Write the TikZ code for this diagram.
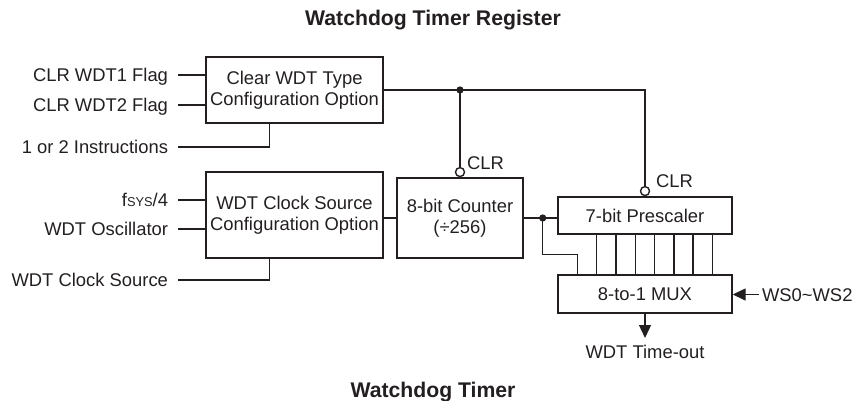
\documentclass[tikz,border=0pt]{standalone}
\usepackage{fontspec}
\setmainfont{Liberation Sans}
\usetikzlibrary{arrows.meta,calc}
\definecolor{ink}{HTML}{231F20}
\begin{document}
\begin{tikzpicture}[x=1pt,y=-1pt,
  every node/.style={font=\fontsize{18.4}{21}\selectfont, text=ink},
  line/.style={line width=1.4pt, draw=ink},
  block/.style={line, rectangle, align=center, inner sep=0pt},
  lab/.style={inner sep=0pt, text height=13.2pt, text depth=0pt},
  inlab/.style={lab, anchor=east, outer xsep=10pt},
  bubble/.style={circle, line, fill=white, inner sep=0pt, minimum size=9pt},
  tip/.style={-{Triangle[length=13pt,width=12pt]}},
  ttl/.style={font=\bfseries\fontsize{21.2}{25}\selectfont, inner sep=0pt, anchor=base}
]
\useasboundingbox (0,0) rectangle (856,401);

\node[ttl] (t1) at (433,26) {Watchdog Timer Register};
\node[ttl] (t2) at (433,397) {Watchdog Timer};

\node[block, minimum width=177pt, minimum height=66pt] (cfg1) at (294.5,90) {Clear WDT Type\\Configuration Option};
\node[block, minimum width=177pt, minimum height=86pt] (cfg2) at (294.5,215) {WDT Clock Source\\Configuration Option};
\node[block, minimum width=126pt, minimum height=80pt] (cnt) at (460,218) {8-bit Counter\\(÷256)};
\node[block, minimum width=174pt, minimum height=37pt] (pre) at (645,215.5) {7-bit Prescaler};
\node[block, minimum width=174pt, minimum height=38pt] (mux) at (645,294) {8-to-1 MUX};

\node[inlab] (i1) at (178,75) {CLR WDT1 Flag};
\node[inlab] (i2) at (178,105) {CLR WDT2 Flag};
\node[inlab] (i3) at (178,147) {1 or 2 Instructions};
\node[inlab] (i4) at (178,200) {f{\fontsize{12.8}{14}\selectfont SYS}/4};
\node[inlab] (i5) at (178,229) {WDT Oscillator};
\node[inlab] (i6) at (178,280) {WDT Clock Source};

\draw[line] (i1.east) -- (i1.east -| cfg1.west);
\draw[line] (i2.east) -- (i2.east -| cfg1.west);
\draw[line] (i3.east) -| ($(cfg1.south west)+(64,0)$);
\draw[line] (i4.east) -- (i4.east -| cfg2.west);
\draw[line] (i5.east) -- (i5.east -| cfg2.west);
\draw[line] (i6.east) -| ($(cfg2.south west)+(64,0)$);

\draw[line] (cnt.west) -- (cnt.west -| cfg2.east);

\node[bubble, anchor=south] (b1) at (cnt.north) {};
\node[bubble, anchor=south] (b2) at (pre.north) {};
\node[anchor=base west, inner sep=0pt] (clr1) at (467,169) {CLR};
\node[anchor=base west, inner sep=0pt] (clr2) at (656,187) {CLR};

\coordinate (j1) at (b1.north |- cfg1.east);
\draw[line] (cfg1.east) -| (b2.north);
\draw[line] (j1) -- (b1.north);
\fill[ink] (j1) circle (3.6pt);

\coordinate (j2) at ($(cnt.east)+(19,0)$);
\draw[line] (cnt.east) -- (cnt.east -| pre.west);
\coordinate (k0) at ($(mux.north west)+(20,0)$);
\draw[line] (j2) |- ($(k0)+(0,-20)$) -- (k0);
\fill[ink] (j2) circle (3.6pt);
\foreach \k in {1,...,7}
  \draw[line] ($(mux.north west)+(20+19.3*\k,0)$) -- ($(pre.south west)+(20+19.3*\k,0)$);

\node[lab, anchor=north, outer ysep=7pt] (out) at (645,338) {WDT Time-out};
\draw[line, tip] (mux.south) -- (out.north);

\node[lab, anchor=west, outer xsep=3pt] (ws) at (759,294.5) {WS0\textasciitilde WS2};
\draw[line, tip] (ws.west) -- (ws.west -| mux.east);
\end{tikzpicture}
\end{document}
